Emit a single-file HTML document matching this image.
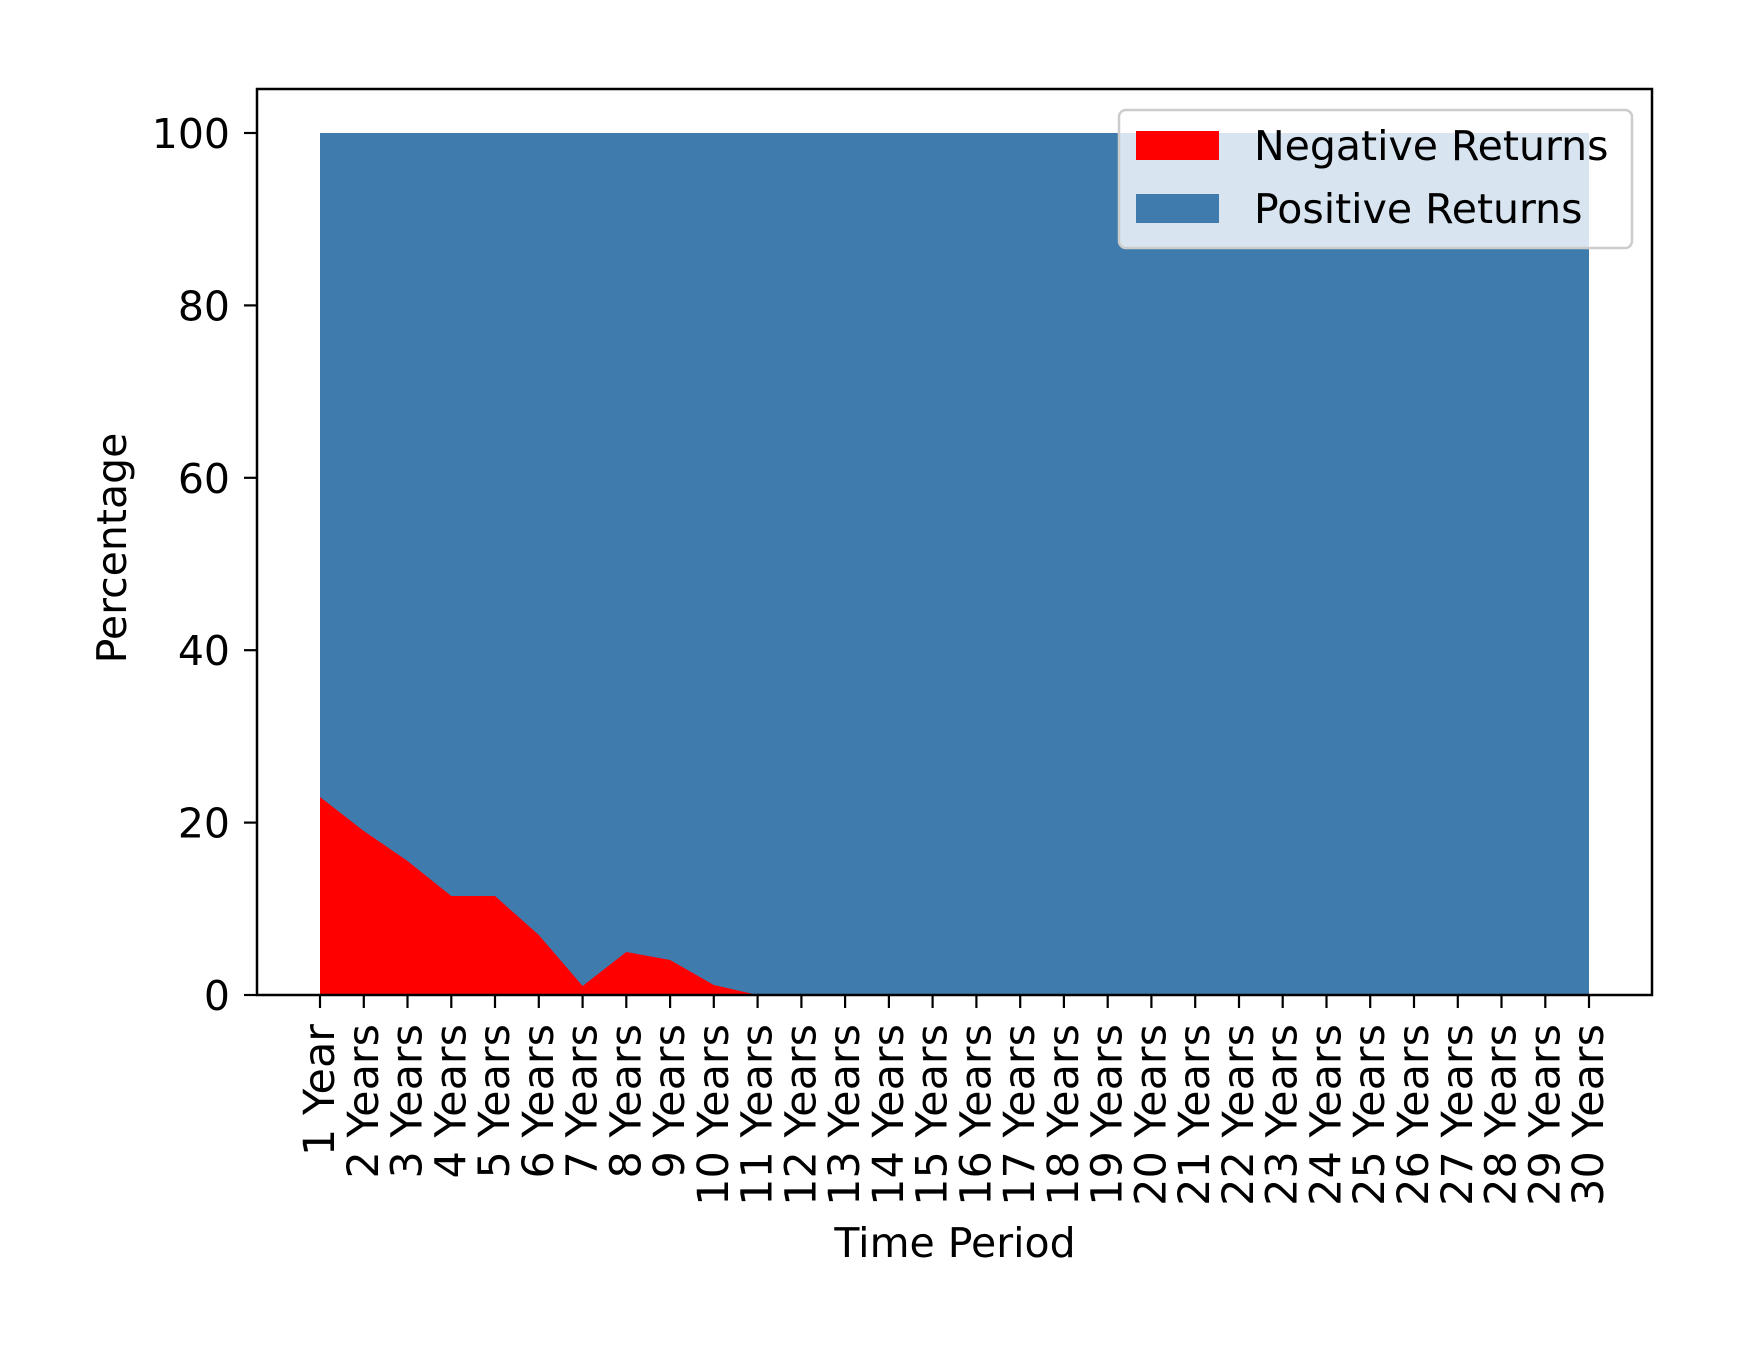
<!DOCTYPE html>
<html><head><meta charset="utf-8"><style>body{margin:0;background:#fff}svg{display:block}</style></head>
<body>
<svg width="1742" height="1355" xmlns="http://www.w3.org/2000/svg" font-family="DejaVu Sans, Liberation Sans, sans-serif" font-size="41">
<rect width="1742" height="1355" fill="#fff"/>
<polygon fill="#3f7bad" points="320,133 1589,133 1589,995 320,995"/>
<polygon fill="#ff0000" points="320,995 320,797 363.8,831 407.5,861 451.3,896 495,896 538.8,935 582.6,986 626.3,952 670.1,960 713.8,985 757.6,995"/>
<rect x="257" y="89" width="1395" height="906" fill="none" stroke="#000" stroke-width="2.5"/>
<g stroke="#000" stroke-width="2.2">
<line x1="244" y1="995" x2="257" y2="995"/><line x1="244" y1="822.6" x2="257" y2="822.6"/><line x1="244" y1="650.2" x2="257" y2="650.2"/><line x1="244" y1="477.8" x2="257" y2="477.8"/><line x1="244" y1="305.4" x2="257" y2="305.4"/><line x1="244" y1="133" x2="257" y2="133"/>
</g>
<g text-anchor="end" fill="#000">
<text x="230" y="1010">0</text><text x="230" y="837.6">20</text><text x="230" y="665.2">40</text><text x="230" y="492.8">60</text><text x="230" y="320.4">80</text><text x="230" y="148">100</text>
</g>
<text transform="translate(126,548) rotate(-90)" text-anchor="middle">Percentage</text>
<text x="955" y="1257" text-anchor="middle">Time Period</text>
<g stroke="#000" stroke-width="2.2">
<line x1="320" y1="995" x2="320" y2="1008"/><line x1="363.8" y1="995" x2="363.8" y2="1008"/><line x1="407.5" y1="995" x2="407.5" y2="1008"/><line x1="451.3" y1="995" x2="451.3" y2="1008"/><line x1="495" y1="995" x2="495" y2="1008"/><line x1="538.8" y1="995" x2="538.8" y2="1008"/><line x1="582.6" y1="995" x2="582.6" y2="1008"/><line x1="626.3" y1="995" x2="626.3" y2="1008"/><line x1="670.1" y1="995" x2="670.1" y2="1008"/><line x1="713.8" y1="995" x2="713.8" y2="1008"/><line x1="757.6" y1="995" x2="757.6" y2="1008"/><line x1="801.4" y1="995" x2="801.4" y2="1008"/><line x1="845.1" y1="995" x2="845.1" y2="1008"/><line x1="888.9" y1="995" x2="888.9" y2="1008"/><line x1="932.6" y1="995" x2="932.6" y2="1008"/><line x1="976.4" y1="995" x2="976.4" y2="1008"/><line x1="1020.2" y1="995" x2="1020.2" y2="1008"/><line x1="1063.9" y1="995" x2="1063.9" y2="1008"/><line x1="1107.7" y1="995" x2="1107.7" y2="1008"/><line x1="1151.4" y1="995" x2="1151.4" y2="1008"/><line x1="1195.2" y1="995" x2="1195.2" y2="1008"/><line x1="1239" y1="995" x2="1239" y2="1008"/><line x1="1282.7" y1="995" x2="1282.7" y2="1008"/><line x1="1326.5" y1="995" x2="1326.5" y2="1008"/><line x1="1370.2" y1="995" x2="1370.2" y2="1008"/><line x1="1414" y1="995" x2="1414" y2="1008"/><line x1="1457.8" y1="995" x2="1457.8" y2="1008"/><line x1="1501.5" y1="995" x2="1501.5" y2="1008"/><line x1="1545.3" y1="995" x2="1545.3" y2="1008"/><line x1="1589" y1="995" x2="1589" y2="1008"/>
</g>
<g text-anchor="end" fill="#000" font-size="43">
<text transform="translate(334,1024) rotate(-90)">1 Year</text>
<text transform="translate(377.8,1024) rotate(-90)">2 Years</text>
<text transform="translate(421.5,1024) rotate(-90)">3 Years</text>
<text transform="translate(465.3,1024) rotate(-90)">4 Years</text>
<text transform="translate(509,1024) rotate(-90)">5 Years</text>
<text transform="translate(552.8,1024) rotate(-90)">6 Years</text>
<text transform="translate(596.6,1024) rotate(-90)">7 Years</text>
<text transform="translate(640.3,1024) rotate(-90)">8 Years</text>
<text transform="translate(684.1,1024) rotate(-90)">9 Years</text>
<text transform="translate(727.8,1024) rotate(-90)">10 Years</text>
<text transform="translate(771.6,1024) rotate(-90)">11 Years</text>
<text transform="translate(815.4,1024) rotate(-90)">12 Years</text>
<text transform="translate(859.1,1024) rotate(-90)">13 Years</text>
<text transform="translate(902.9,1024) rotate(-90)">14 Years</text>
<text transform="translate(946.6,1024) rotate(-90)">15 Years</text>
<text transform="translate(990.4,1024) rotate(-90)">16 Years</text>
<text transform="translate(1034.2,1024) rotate(-90)">17 Years</text>
<text transform="translate(1077.9,1024) rotate(-90)">18 Years</text>
<text transform="translate(1121.7,1024) rotate(-90)">19 Years</text>
<text transform="translate(1165.4,1024) rotate(-90)">20 Years</text>
<text transform="translate(1209.2,1024) rotate(-90)">21 Years</text>
<text transform="translate(1253,1024) rotate(-90)">22 Years</text>
<text transform="translate(1296.7,1024) rotate(-90)">23 Years</text>
<text transform="translate(1340.5,1024) rotate(-90)">24 Years</text>
<text transform="translate(1384.2,1024) rotate(-90)">25 Years</text>
<text transform="translate(1428,1024) rotate(-90)">26 Years</text>
<text transform="translate(1471.8,1024) rotate(-90)">27 Years</text>
<text transform="translate(1515.5,1024) rotate(-90)">28 Years</text>
<text transform="translate(1559.3,1024) rotate(-90)">29 Years</text>
<text transform="translate(1603,1024) rotate(-90)">30 Years</text>
</g>
<rect x="1119" y="110" width="513" height="138" rx="7" fill="#fff" fill-opacity="0.8" stroke="#ccc" stroke-width="2.5"/>
<rect x="1136" y="131" width="83" height="29" fill="#ff0000"/>
<rect x="1136" y="194" width="83" height="29" fill="#3f7bad"/>
<text x="1254" y="160">Negative Returns</text>
<text x="1254" y="223">Positive Returns</text>
</svg>
</body></html>
